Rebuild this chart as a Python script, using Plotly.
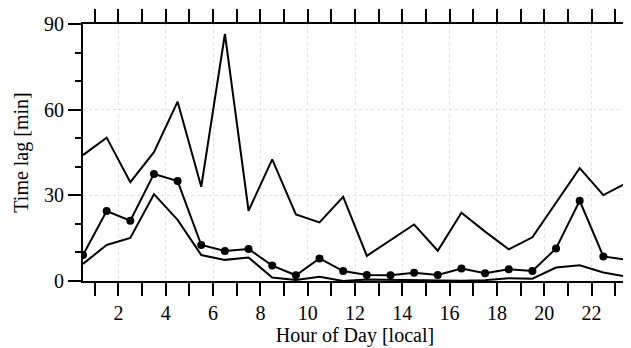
import plotly.graph_objects as go

hours = [h + 0.5 for h in range(24)]
upper = [44.1, 50.2, 34.6, 45.1, 62.8, 33.0, 86.5, 24.6, 42.6, 23.3, 20.5, 29.5,
         8.8, 14.4, 19.8, 10.6, 23.9, 17.3, 11.1, 15.3, 27.4, 39.5, 30.1, 34.4]
median = [9.1, 24.5, 21.1, 37.5, 35.0, 12.6, 10.5, 11.2, 5.4, 2.0, 7.9, 3.5,
          2.1, 2.0, 2.9, 2.1, 4.4, 2.7, 4.1, 3.5, 11.4, 28.1, 8.6, 7.4]
lower = [6.0, 12.6, 15.1, 30.4, 21.4, 9.1, 7.4, 8.2, 1.2, 0.35, 1.5, 0.0,
         0.5, 0.4, 0.5, 0.3, 0.1, 0.3, 1.0, 0.8, 4.7, 5.5, 3.0, 1.5]
x_ticks = [2, 4, 6, 8, 10, 12, 14, 16, 18, 20, 22]
y_ticks = [0, 30, 60, 90]

FONT = "Liberation Serif"
FS = 20
TF = dict(family=FONT, size=FS, color="black")
fig = go.Figure()
fig.add_trace(go.Scatter(x=hours, y=upper, mode="lines",
                         line=dict(color="black", width=2), showlegend=False))
fig.add_trace(go.Scatter(x=hours, y=lower, mode="lines",
                         line=dict(color="black", width=2), showlegend=False))
fig.add_trace(go.Scatter(x=hours, y=median, mode="lines+markers",
                         line=dict(color="black", width=2),
                         marker=dict(color="black", size=8), showlegend=False))
# invisible helper trace to carry the right-side tick axis
fig.add_trace(go.Scatter(x=hours, y=median, mode="lines", yaxis="y2",
                         line=dict(color="rgba(0,0,0,0)", width=1),
                         hoverinfo="skip", showlegend=False))

# page body has an 8px margin, so the figure is sized/offset to compensate
fig.update_layout(
    width=623, height=340,
    margin=dict(l=75, r=4, t=16, b=67),
    plot_bgcolor="white", paper_bgcolor="white",
    font=TF,
    xaxis=dict(
        range=[0.5, 23.5], tickmode="array", tickvals=x_ticks,
        ticks="outside", ticklen=13, tickwidth=2, tickcolor="black",
        showline=True, linecolor="black", linewidth=2, mirror="allticks",
        showgrid=True, gridcolor="#e2e2e2", griddash="dot", gridwidth=1,
        zeroline=False, automargin=False,
        minor=dict(tickmode="array", tickvals=[h for h in range(1, 24, 2)],
                   ticks="outside", ticklen=6, tickwidth=2, tickcolor="black",
                   showgrid=False),
        title=dict(text="Hour of Day [local]", font=TF, standoff=5),
        tickfont=TF,
    ),
    yaxis=dict(
        range=[0, 90], tickmode="array", tickvals=y_ticks,
        ticks="outside", ticklen=13, tickwidth=2, tickcolor="black",
        showline=True, linecolor="black", linewidth=2, mirror=True,
        showgrid=True, gridcolor="#e2e2e2", griddash="dot", gridwidth=1,
        zeroline=False, automargin=False,
        minor=dict(tickmode="array", tickvals=[10, 20, 40, 50, 70, 80],
                   ticks="outside", ticklen=6, tickwidth=2, tickcolor="black",
                   showgrid=False),
        title=dict(text="Time lag [min]", font=TF, standoff=10),
        tickfont=TF,
    ),
    yaxis2=dict(
        range=[0, 90], overlaying="y", side="right", anchor="x",
        automargin=False,
        tickmode="array", tickvals=[10, 20, 30, 40, 50, 60, 70, 80],
        ticks="outside", ticklen=6, tickwidth=2, tickcolor="black",
        showticklabels=False, showgrid=False, zeroline=False, showline=False,
    ),
)

fig.write_html("out.html")
